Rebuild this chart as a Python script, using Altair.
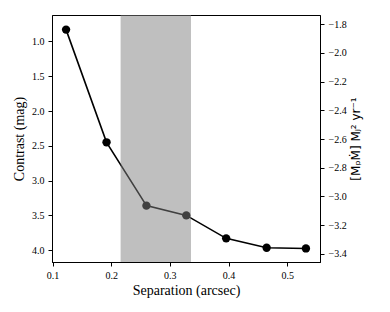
import altair as alt
import pandas as pd

sep = [0.123, 0.192, 0.260, 0.328, 0.396, 0.465, 0.532]
contrast = [0.83, 2.45, 3.36, 3.50, 3.83, 3.965, 3.975]
band_lo = [0.216]
band_hi = [0.336]
x_ticks = [0.1, 0.2, 0.3, 0.4, 0.5]
y_ticks = [1.0, 1.5, 2.0, 2.5, 3.0, 3.5, 4.0]
rate_ticks = [-1.8, -2.0, -2.2, -2.4, -2.6, -2.8, -3.0, -3.2, -3.4]

df = pd.DataFrame({"sep": sep, "contrast": contrast})
band = pd.DataFrame({"lo": band_lo, "hi": band_hi})
right = pd.DataFrame({"rate": rate_ticks})

serif = "Liberation Serif"
xscale = alt.Scale(domain=[0.099, 0.556], nice=False, zero=False)
yscale = alt.Scale(domain=[0.62, 4.17], reverse=True, nice=False, zero=False)
rscale = alt.Scale(domain=[-3.456, -1.737], nice=False, zero=False)

xaxis = alt.Axis(values=x_ticks, format=".1f", title="Separation (arcsec)",
                 titleFont=serif, titleFontSize=14, titlePadding=3)
yaxis = alt.Axis(values=y_ticks, format=".1f", title="Contrast (mag)",
                 titleFont=serif, titleFontSize=14, titlePadding=5)
raxis = alt.Axis(values=rate_ticks, orient="right",
                 labelExpr="replace(format(datum.value, '.1f'), '-', '\u2212')",
                 title="[M\u209a\u1e40] M\u2c7c\u00b2 yr\u207b\u00b9",
                 titleFont="DejaVu Sans", titleFontSize=12, titleAngle=270,
                 titleBaseline="top", titlePadding=4)

line = alt.Chart(df).mark_line(color="black", strokeWidth=1.6).encode(
    x=alt.X("sep:Q", scale=xscale, axis=xaxis),
    y=alt.Y("contrast:Q", scale=yscale, axis=yaxis),
)
points = alt.Chart(df).mark_circle(color="black", size=70, opacity=1).encode(
    x=alt.X("sep:Q", scale=xscale, axis=xaxis),
    y=alt.Y("contrast:Q", scale=yscale, axis=None),
)
rect = alt.Chart(band).mark_rect(color="gray", opacity=0.5).encode(
    x=alt.X("lo:Q", scale=xscale, axis=xaxis),
    x2="hi:Q",
)
rlayer = alt.Chart(right).mark_point(opacity=0).encode(
    x=alt.value(0),
    y=alt.Y("rate:Q", scale=rscale, axis=raxis),
)

chart = alt.layer(line, points, rect, rlayer).resolve_scale(y="independent").properties(
    width=268, height=247, autosize="none",
    padding={"left": 44, "top": 7, "right": 62, "bottom": 42},
).configure_view(stroke="black", strokeWidth=1).configure_axis(
    grid=False, domainColor="black", tickColor="black", tickSize=4,
    labelFont=serif, labelFontSize=10, labelColor="black", labelFlush=False,
    titleColor="black", titleFontWeight="normal", labelPadding=4,
)

chart.save("out.html", embed_options={"renderer": "svg", "actions": False})
